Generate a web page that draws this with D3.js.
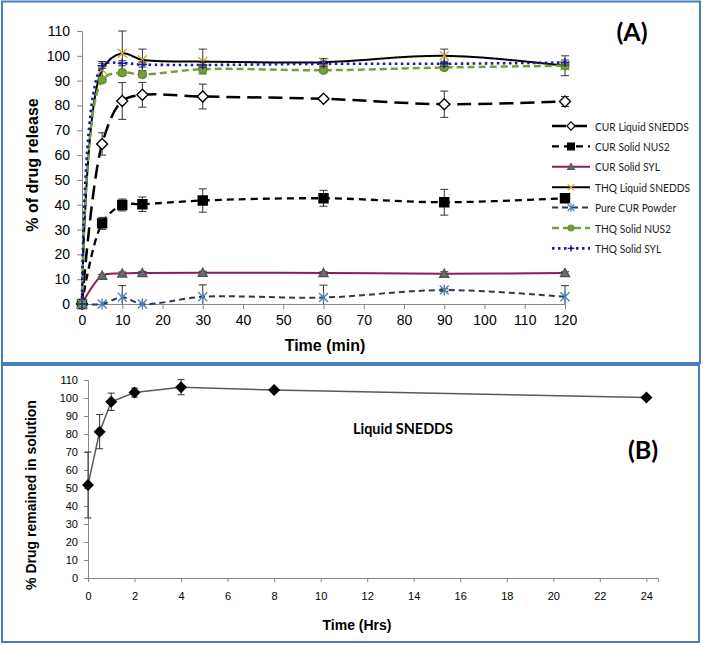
<!DOCTYPE html>
<html><head><meta charset="utf-8">
<script src="https://cdn.jsdelivr.net/npm/d3@7"></script>
<style>body{margin:0;background:#fff}svg{display:block}</style>
</head><body>
<svg id="c" width="703" height="645"></svg>
<script>
// ---------- Data: panel A ----------
const timesA = [0, 5, 10, 15, 30, 60, 90, 120];
const seriesNames = ["CUR Liquid SNEDDS","CUR Solid NUS2","CUR Solid SYL","THQ Liquid SNEDDS","Pure CUR Powder","THQ Solid NUS2","THQ Solid SYL"];
const curLiquid    = [0, 64.5, 81.8, 84.3, 83.6, 82.7, 80.5, 81.6];
const curLiquidErr = [0, 4.5, 7.4, 5, 5, 1, 5.3, 2];
const curNus2      = [0, 32.5, 39.9, 40.2, 41.7, 42.6, 41, 42.6];
const curNus2Err   = [0, 2.4, 2.4, 2.9, 4.7, 3.2, 5.2, 0];
const curSyl       = [0, 11.4, 12.3, 12.5, 12.6, 12.5, 12.2, 12.5];
const curSylErr    = [0, 0.5, 0.6, 0.6, 0.6, 0.5, 0.8, 0.5];
const thqLiquid    = [0, 94.4, 101, 98.4, 97.7, 97.4, 100, 96];
const thqLiquidErr = [0, 3.3, 9, 4.3, 5, 1.5, 2.7, 4];
const pureCur      = [0, 0, 2.7, 0, 2.9, 2.6, 5.6, 2.9];
const pureCurErr   = [0, 0, 4.7, 0, 4.8, 5, 0.5, 4.5];
const thqNus2      = [0, 90.3, 93.2, 92.5, 94.6, 94.2, 95.3, 96];
const thqNus2Err   = [0, 1, 1, 1, 1.2, 1, 1, 1];
const thqSyl       = [0, 96, 97, 96.5, 96.3, 96.8, 96.8, 97.3];
const thqSylErr    = [0, 1, 1, 1, 1, 1, 1, 1];
const yTicksA = [0,10,20,30,40,50,60,70,80,90,100,110];
const xTicksA = [0,10,20,30,40,50,60,70,80,90,100,110,120];

// ---------- Data: panel B ----------
const timesB = [0, 0.5, 1, 2, 4, 8, 24];
const remained = [51.7, 81.3, 97.9, 103, 106, 104.4, 100.3];
const remainedErr = [18.3, 9.5, 4.8, 2.5, 4.2, 1, 1];
const yTicksB = [0,10,20,30,40,50,60,70,80,90,100,110];
const xTicksB = [0,2,4,6,8,10,12,14,16,18,20,22,24];

// ---------- Styles ----------
const valuesA = [curLiquid, curNus2, curSyl, thqLiquid, pureCur, thqNus2, thqSyl];
const errsA = [curLiquidErr, curNus2Err, curSylErr, thqLiquidErr, pureCurErr, thqNus2Err, thqSylErr];
const styles = [
  {stroke:"#000", width:2.5, dash:"14,7", marker:"diamond", mfill:"#fff", mstroke:"#000", r:5.5},
  {stroke:"#000", width:2.3, dash:"7,5", marker:"square", mfill:"#000", mstroke:"#000", r:4.5},
  {stroke:"#8B1C5E", width:2, dash:null, marker:"triangle", mfill:"#6d6d6d", mstroke:"#555", r:4.5},
  {stroke:"#000", width:2, dash:null, marker:"x", mfill:"none", mstroke:"#D4A82A", r:4.5},
  {stroke:"#2E3B4E", width:2, dash:"6,4", marker:"star", mfill:"none", mstroke:"#4F81BD", r:4.5},
  {stroke:"#77A03A", width:2.5, dash:"7,4", marker:"circle", mfill:"#77A03A", mstroke:"#5f8a2a", r:4},
  {stroke:"#1A1AA8", width:2.6, dash:"2.5,3.5", marker:"plus", mfill:"none", mstroke:"#1A1AA8", r:4.5}
];

function markerPath(t, r){
  switch(t){
    case "diamond": return `M0,${-r}L${r},0L0,${r}L${-r},0Z`;
    case "square": return `M${-r},${-r}h${2*r}v${2*r}h${-2*r}Z`;
    case "triangle": return `M0,${-r}L${r},${r*0.8}L${-r},${r*0.8}Z`;
    case "x": return `M${-r},${-r}L${r},${r}M${-r},${r}L${r},${-r}`;
    case "star": return `M${-r},${-r}L${r},${r}M${-r},${r}L${r},${-r}M0,${-r*1.2}V${r*1.2}`;
    case "plus": return `M${-r},0H${r}M0,${-r}V${r}`;
    case "circle": return d3.arc()({innerRadius:0,outerRadius:r,startAngle:0,endAngle:2*Math.PI});
  }
}
function narrow(sel, factor){
  sel.each(function(){
    const w = this.getComputedTextLength();
    if (factor < 1) d3.select(this).attr("textLength", w*factor).attr("lengthAdjust","spacingAndGlyphs");
  });
}

const svg = d3.select("#c");
const frame = "#4A7EBB";
svg.append("rect").attr("x",2).attr("y",1.5).attr("width",698).attr("height",361.5)
  .attr("fill","#fff").attr("stroke",frame).attr("stroke-width",2);
svg.append("rect").attr("x",2).attr("y",365).attr("width",697).attr("height",277)
  .attr("fill","#fff").attr("stroke",frame).attr("stroke-width",2);

const axisColor = "#868686";
const FONT = "'Liberation Sans', Arial, sans-serif";
const CAL = "Lato, 'Open Sans', sans-serif";

// ---------- Panel A ----------
const xA = d3.scaleLinear().domain([0,120]).range([82,565]);
const yA = d3.scaleLinear().domain([0,110]).range([304,31]);
const gA = svg.append("g");

const yAxA = gA.append("g").attr("transform",`translate(${xA(0)},0)`)
  .call(d3.axisLeft(yA).tickValues(yTicksA).tickSize(5).tickPadding(7));
const xAxA = gA.append("g").attr("transform",`translate(0,${yA(0)})`)
  .call(d3.axisBottom(xA).tickValues(xTicksA).tickSize(5).tickPadding(6));
[yAxA,xAxA].forEach(a=>{
  a.selectAll("path,line").attr("stroke",axisColor);
  a.selectAll("text").attr("font-family",FONT).attr("font-size",14).attr("fill","#000");
});

gA.append("text").attr("transform",`translate(32,165) rotate(-90)`)
  .attr("text-anchor","middle").attr("dominant-baseline","central")
  .attr("font-family",FONT).attr("font-weight","bold").attr("font-size",16).text("% of drug release");
gA.append("text").attr("x",325).attr("y",345).attr("text-anchor","middle").attr("dominant-baseline","central")
  .attr("font-family",FONT).attr("font-weight","bold").attr("font-size",16).text("Time (min)");
gA.append("text").attr("x",632).attr("y",41).attr("text-anchor","middle")
  .attr("font-family",CAL).attr("font-weight","bold").attr("font-size",25).text("(A)");

const lineA = d3.line().curve(d3.curveCatmullRom.alpha(0.5));
valuesA.forEach((vals,i)=>{
  const st = styles[i];
  const pts = timesA.map((t,j)=>[xA(t), yA(vals[j])]);
  gA.append("path").attr("d",lineA(pts)).attr("fill","none")
    .attr("stroke",st.stroke).attr("stroke-width",st.width)
    .attr("stroke-dasharray",st.dash);
});
valuesA.forEach((vals,i)=>{
  const st = styles[i], errs = errsA[i];
  const g = gA.append("g");
  timesA.forEach((t,j)=>{
    const e = errs[j];
    if(e>0.3){
      const x = xA(t), lo = Math.max(0, vals[j]-e), hi = vals[j]+e;
      g.append("line").attr("x1",x).attr("x2",x).attr("y1",yA(lo)).attr("y2",yA(hi))
        .attr("stroke","#333").attr("stroke-width",1);
      g.append("line").attr("x1",x-4).attr("x2",x+4).attr("y1",yA(hi)).attr("y2",yA(hi))
        .attr("stroke","#333").attr("stroke-width",1);
      if(vals[j]-e>0) g.append("line").attr("x1",x-4).attr("x2",x+4).attr("y1",yA(lo)).attr("y2",yA(lo))
        .attr("stroke","#333").attr("stroke-width",1);
    }
  });
  g.selectAll(".m").data(timesA).enter().append("path")
    .attr("transform",(t,j)=>`translate(${xA(t)},${yA(vals[j])})`)
    .attr("d",markerPath(st.marker, st.r))
    .attr("fill",st.mfill).attr("stroke",st.mstroke).attr("stroke-width",1.4);
});

// legend
const legY0 = 126, legStep = 20.4;
const legTexts = [];
seriesNames.forEach((name,i)=>{
  const st = styles[i], y = legY0 + i*legStep;
  const g = gA.append("g");
  g.append("line").attr("x1",552).attr("x2",590).attr("y1",y).attr("y2",y)
    .attr("stroke",st.stroke).attr("stroke-width",st.width).attr("stroke-dasharray",st.dash);
  g.append("path").attr("transform",`translate(571,${y})`).attr("d",markerPath(st.marker, st.r*0.75))
    .attr("fill",st.mfill).attr("stroke",st.mstroke).attr("stroke-width",1.2);
  legTexts.push(g.append("text").attr("x",595).attr("y",y).attr("dominant-baseline","central")
    .attr("font-family",CAL).attr("font-size",11).attr("fill","#222").text(name).node());
});
const wRef = legTexts[3].getComputedTextLength();
narrow(d3.selectAll(legTexts), 95 / wRef);

// ---------- Panel B ----------
const xB = d3.scaleLinear().domain([0,24.5]).range([88,658]);
const yB = d3.scaleLinear().domain([0,110]).range([578,380]);
const gB = svg.append("g");
const yAxB = gB.append("g").attr("transform",`translate(${xB(0)},0)`)
  .call(d3.axisLeft(yB).tickValues(yTicksB).tickSize(4).tickPadding(6));
const xAxB = gB.append("g").attr("transform",`translate(0,${yB(0)})`)
  .call(d3.axisBottom(xB).tickValues(xTicksB).tickSize(4).tickPadding(10));
[yAxB,xAxB].forEach(a=>{
  a.selectAll("path,line").attr("stroke",axisColor);
  a.selectAll("text").attr("font-family",FONT).attr("font-size",11).attr("fill","#000");
});
gB.append("text").attr("transform",`translate(31,495) rotate(-90)`)
  .attr("text-anchor","middle").attr("dominant-baseline","central")
  .attr("font-family",FONT).attr("font-weight","bold").attr("font-size",14).text("% Drug remained in solution");
gB.append("text").attr("x",357).attr("y",625).attr("text-anchor","middle").attr("dominant-baseline","central")
  .attr("font-family",FONT).attr("font-weight","bold").attr("font-size",14).text("Time (Hrs)");
const liq = gB.append("text").attr("x",353).attr("y",428).attr("dominant-baseline","central")
  .attr("font-family",CAL).attr("font-weight","bold").attr("font-size",15).text("Liquid SNEDDS");
narrow(liq, 100 / liq.node().getComputedTextLength());
gB.append("text").attr("x",643).attr("y",459).attr("text-anchor","middle")
  .attr("font-family",CAL).attr("font-weight","bold").attr("font-size",25).text("(B)");

gB.append("path").attr("d",d3.line()(timesB.map((t,j)=>[xB(t),yB(remained[j])])))
  .attr("fill","none").attr("stroke","#595959").attr("stroke-width",1.5);
timesB.forEach((t,j)=>{
  const e = remainedErr[j], x = xB(t);
  if(e>1.2){
    const lo = remained[j]-e, hi = remained[j]+e;
    gB.append("line").attr("x1",x).attr("x2",x).attr("y1",yB(lo)).attr("y2",yB(hi)).attr("stroke","#333");
    [lo,hi].forEach(v=>gB.append("line").attr("x1",x-3.5).attr("x2",x+3.5).attr("y1",yB(v)).attr("y2",yB(v)).attr("stroke","#333"));
  }
});
gB.selectAll(".dm").data(timesB).enter().append("path")
  .attr("transform",(t,j)=>`translate(${xB(t)},${yB(remained[j])})`)
  .attr("d",markerPath("diamond",6)).attr("fill","#000");
</script>
</body></html>
